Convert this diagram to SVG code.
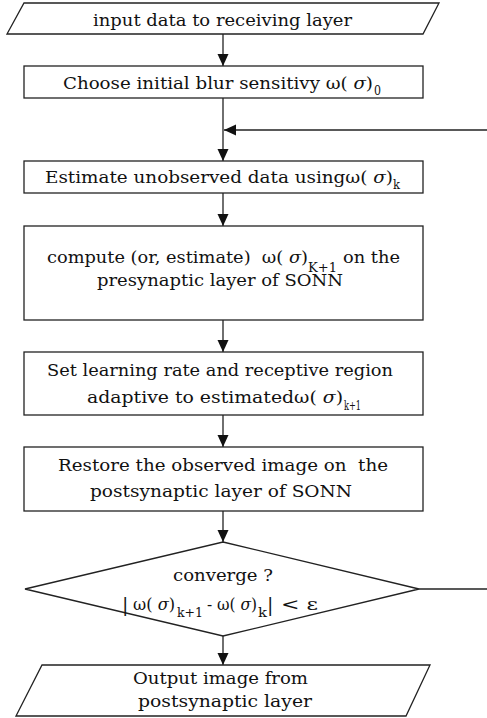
<svg xmlns="http://www.w3.org/2000/svg" width="487" height="718" viewBox="0 0 487 718">
<style>
  .shape { fill: #ffffff; stroke: #222222; stroke-width: 1.3; }
  .conn { fill: none; stroke: #222222; stroke-width: 1.3; }
  text { font-family: "DejaVu Serif", "Liberation Serif", serif; font-size: 16px; fill: #111111; }
  .sub { font-size: 12px; }
  .bar { font-size: 19px; }
  .it { font-style: italic; }
</style>
<defs>
  <marker id="arr" viewBox="0 0 12 12" refX="12" refY="6" markerWidth="12" markerHeight="12" markerUnits="userSpaceOnUse" orient="auto">
    <path d="M0,0.5 L12,6 L0,11.5 Z" fill="#111111"/>
  </marker>
</defs>
<rect width="487" height="718" fill="#ffffff"/>

<g id="connectors">
  <line class="conn" x1="223" y1="34" x2="223" y2="66" marker-end="url(#arr)"/>
  <line class="conn" x1="223" y1="98" x2="223" y2="161" marker-end="url(#arr)"/>
  <line class="conn" x1="487" y1="130" x2="224" y2="130" marker-end="url(#arr)"/>
  <line class="conn" x1="223" y1="193" x2="223" y2="226" marker-end="url(#arr)"/>
  <line class="conn" x1="223" y1="320" x2="223" y2="352" marker-end="url(#arr)"/>
  <line class="conn" x1="223" y1="415" x2="223" y2="447" marker-end="url(#arr)"/>
  <line class="conn" x1="223" y1="511" x2="223" y2="542" marker-end="url(#arr)"/>
  <line class="conn" x1="223" y1="636" x2="223" y2="665" marker-end="url(#arr)"/>
  <line class="conn" x1="419" y1="589" x2="487" y2="589"/>
</g>

<g id="input">
  <polygon class="shape" points="24,3 439,3 423,34 7,34"/>
  <text x="93" y="26" textLength="259" lengthAdjust="spacingAndGlyphs">input data to receiving layer</text>
</g>

<g id="choose">
  <rect class="shape" x="24" y="66" width="399" height="32"/>
  <text x="63" y="89" textLength="310" lengthAdjust="spacingAndGlyphs">Choose initial blur sensitivy ω( <tspan class="it">σ</tspan>)</text>
  <text class="sub" x="374" y="95" textLength="7" lengthAdjust="spacingAndGlyphs">0</text>
</g>

<g id="estimate">
  <rect class="shape" x="24" y="161" width="399" height="32"/>
  <text x="45" y="183" textLength="348" lengthAdjust="spacingAndGlyphs">Estimate unobserved data usingω( <tspan class="it">σ</tspan>)</text>
  <text class="sub" x="393" y="189" textLength="7" lengthAdjust="spacingAndGlyphs">k</text>
</g>

<g id="compute">
  <rect class="shape" x="24" y="226" width="399" height="94"/>
  <text x="47" y="263" textLength="261" lengthAdjust="spacingAndGlyphs" xml:space="preserve">compute (or, estimate)  ω( <tspan class="it">σ</tspan>)</text>
  <text x="308" y="272" style="font-size:13px" textLength="29" lengthAdjust="spacingAndGlyphs">K+1</text>
  <text x="343" y="263" textLength="57" lengthAdjust="spacingAndGlyphs">on the</text>
  <text x="97" y="286" textLength="246" lengthAdjust="spacingAndGlyphs">presynaptic layer of SONN</text>
</g>

<g id="setrate">
  <rect class="shape" x="24" y="352" width="399" height="63"/>
  <text x="47" y="376" textLength="346" lengthAdjust="spacingAndGlyphs">Set learning rate and receptive region</text>
  <text x="87" y="403" textLength="256" lengthAdjust="spacingAndGlyphs">adaptive to estimatedω( <tspan class="it">σ</tspan>)</text>
  <text class="sub" x="344" y="410" textLength="17" lengthAdjust="spacingAndGlyphs">k+1</text>
</g>

<g id="restore">
  <rect class="shape" x="24" y="447" width="399" height="64"/>
  <text x="58" y="471" textLength="330" lengthAdjust="spacingAndGlyphs" xml:space="preserve">Restore the observed image on  the</text>
  <text x="90" y="497" textLength="262" lengthAdjust="spacingAndGlyphs">postsynaptic layer of SONN</text>
</g>

<g id="converge">
  <polygon class="shape" points="223,542 419,589 223,636 25,589"/>
  <text x="173" y="581" textLength="100" lengthAdjust="spacingAndGlyphs">converge ?</text>
  <text class="bar" x="122" y="611">|</text>
  <text x="133" y="610" textLength="42" lengthAdjust="spacingAndGlyphs">ω( <tspan class="it">σ</tspan>)</text>
  <text x="177" y="617" style="font-size:13px" textLength="26" lengthAdjust="spacingAndGlyphs">k+1</text>
  <text x="207" y="610" textLength="50" lengthAdjust="spacingAndGlyphs">- ω( <tspan class="it">σ</tspan>)</text>
  <text x="258" y="617" style="font-size:13px" textLength="9" lengthAdjust="spacingAndGlyphs">k</text>
  <text class="bar" x="267" y="611">|</text>
  <text x="281" y="610" textLength="37" lengthAdjust="spacingAndGlyphs">&lt; ε</text>
</g>

<g id="output">
  <polygon class="shape" points="42,665 430,665 406,716 16,716"/>
  <text x="133" y="684" textLength="175" lengthAdjust="spacingAndGlyphs">Output image from</text>
  <text x="138" y="707" textLength="174" lengthAdjust="spacingAndGlyphs">postsynaptic layer</text>
</g>
</svg>
